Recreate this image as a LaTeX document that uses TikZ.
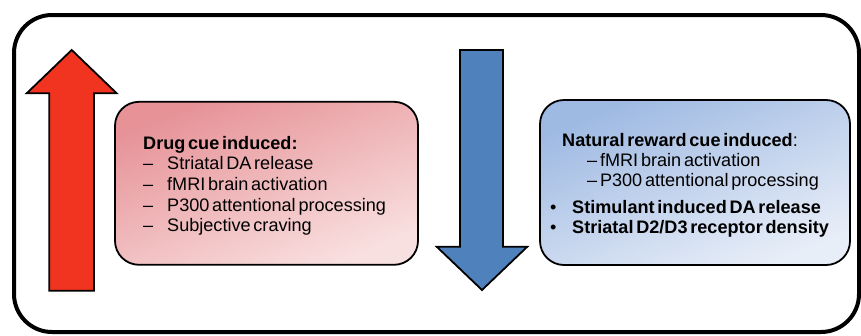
\documentclass[tikz,border=0pt]{standalone}
\usepackage{fontspec}
\setmainfont{Liberation Sans}[WordSpace=0.55]
\definecolor{pinkA}{RGB}{230,146,151}
\definecolor{pinkB}{RGB}{249,224,224}
\definecolor{blueA}{RGB}{158,185,226}
\definecolor{blueB}{RGB}{232,238,248}
\definecolor{arrowred}{RGB}{240,52,32}
\definecolor{arrowblue}{RGB}{79,129,189}
\tikzset{
  frame/.style={draw=black, line width=4pt, rounded corners=38pt},
  cuebox/.style={draw=black, line width=1.8pt, rounded corners=24pt, inner sep=0pt},
  bigarrow/.style={draw=black, line width=1.8pt, line join=miter},
  txt/.style={anchor=base west, inner sep=0pt, font=\fontsize{18.1}{20}\selectfont},
  btxt/.style={anchor=base west, inner sep=0pt, font=\fontsize{18.1}{20}\selectfont\bfseries},
}
\begin{document}
\begin{tikzpicture}[x=1pt, y=-1pt]
\useasboundingbox (0,0) rectangle (861,335);
\begin{scope}
\clip (0,0) rectangle (861,335);
\draw[frame] (14,15) rectangle (859,332);
\end{scope}
% arrows
\draw[bigarrow, fill=arrowred] (71.7,50) -- (116.7,93.3) -- (94,93.3) -- (94,290.7) -- (49.3,290.7) -- (49.3,93.3) -- (26.7,93.3) -- cycle;
\draw[bigarrow, fill=arrowblue] (460,50) -- (503,50) -- (503,246.7) -- (527.3,246.7) -- (482,290) -- (436.7,246.7) -- (460,246.7) -- cycle;
% boxes
\node[cuebox, minimum width=303pt, minimum height=163pt, top color=pinkA, bottom color=pinkB, shading angle=22] (drug) at (266.5,183.3) {};
\node[cuebox, minimum width=310pt, minimum height=165pt, top color=blueA, bottom color=blueB, shading angle=22] (nat) at (695,182.5) {};
% drug text
\node[btxt] (d0) at (143,149) {Drug cue induced:};
\node[txt] (d1) at (143,169.7) {–};
\node[txt] (d1t) at (167,169.7) {Striatal DA release};
\node[txt] (d2) at (143,190.4) {–};
\node[txt] (d2t) at (167,190.4) {fMRI brain activation};
\node[txt] (d3) at (143,211.1) {–};
\node[txt] (d3t) at (167,211.1) {P300 attentional processing};
\node[txt] (d4) at (143,231.8) {–};
\node[txt] (d4t) at (167,231.8) {Subjective craving};
% natural text
\node[txt] (n0) at (562,146) {\textbf{Natural reward cue induced}:};
\node[txt] (n1) at (587,166) {– fMRI brain activation};
\node[txt] (n2) at (587,186.5) {– P300 attentional processing};
\node[txt] (n3b) at (550,213) {•};
\node[btxt] (n3) at (572,213) {Stimulant induced DA release};
\node[txt] (n4b) at (550,233.5) {•};
\node[btxt] (n4) at (572,233.5) {Striatal D2/D3 receptor density};
\end{tikzpicture}
\end{document}
